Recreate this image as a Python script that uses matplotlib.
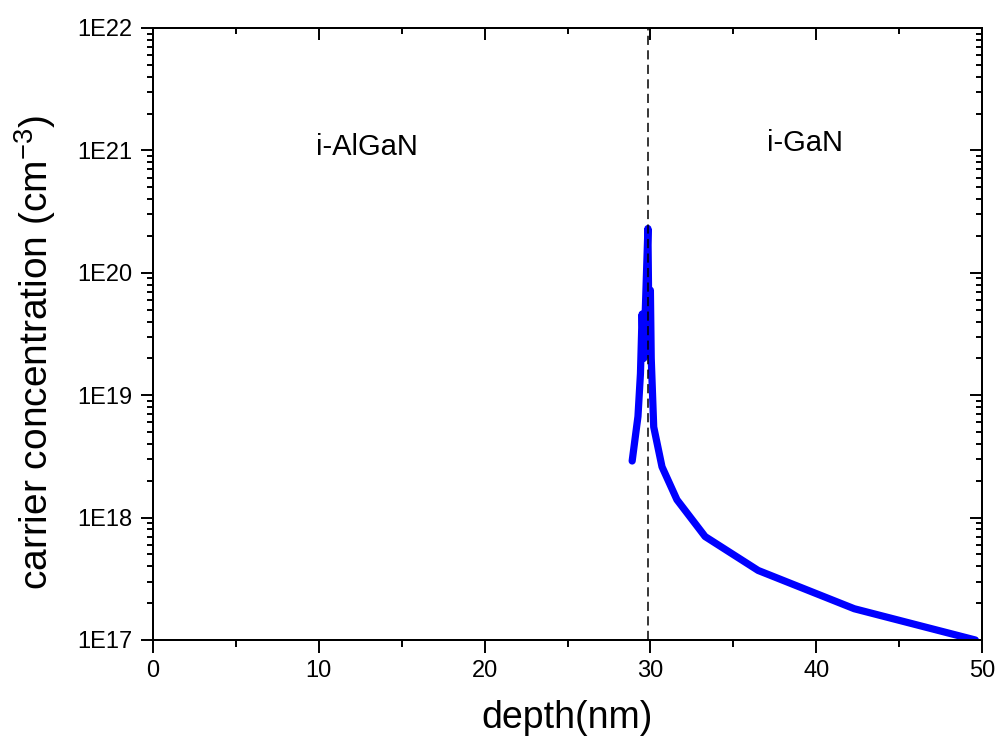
import numpy as np
import matplotlib as mpl

mpl.use("Agg")
import matplotlib.pyplot as plt
from matplotlib.ticker import FuncFormatter, LogLocator, MultipleLocator, NullFormatter

mpl.rcParams.update(
    {
        "font.family": ["Liberation Sans", "DejaVu Sans"],
        "axes.linewidth": 1.4,
        "mathtext.fontset": "custom",
        "mathtext.rm": "Liberation Sans",
        "mathtext.default": "regular",
    }
)

depth = [28.9, 29.25, 29.4, 29.5, 29.6, 29.85, 29.9, 30.0, 30.05, 30.2, 30.7, 31.6, 33.3, 36.5, 42.3, 49.6]
conc = [2.9e18, 6.7e18, 1.5e19, 4.6e19, 2.0e19, 2.3e20, 5.0e19, 7.2e19, 2.0e19, 5.5e18,
        2.6e18, 1.4e18, 7.0e17, 3.7e17, 1.8e17, 1.0e17]
interface = 29.85
regions = [("i-AlGaN", 12.88, 9.2e20), ("i-GaN", 39.3, 9.8e20)]

fig = plt.figure(figsize=(10.01, 7.47), dpi=100, facecolor="white")
ax = fig.add_axes([153 / 1001, 107 / 747, 829 / 1001, 612 / 747])

ax.plot(depth, conc, color="#0000ff", lw=5.2, solid_capstyle="round", solid_joinstyle="round", zorder=3)
ax.axvline(interface, color="black", lw=1.1, ls=(0, (6, 3.5)), zorder=4)
for label, x, y in regions:
    ax.text(x, y, label, fontsize=21, ha="center", va="baseline")

ax.set_xlim(0, 50)
ax.set_yscale("log")
ax.set_ylim(1e17, 1e22)
ax.xaxis.set_major_locator(MultipleLocator(10))
ax.xaxis.set_minor_locator(MultipleLocator(5))
ax.yaxis.set_major_locator(LogLocator(base=10, numticks=10))
ax.yaxis.set_minor_locator(LogLocator(base=10, subs=np.arange(2, 10), numticks=20))
ax.yaxis.set_major_formatter(FuncFormatter(lambda v, p: f"1E{int(round(np.log10(v)))}"))
ax.yaxis.set_minor_formatter(NullFormatter())
ax.tick_params(which="major", direction="out", length=8.6, width=1.4, labelsize=17)
ax.tick_params(which="minor", direction="out", length=4.3, width=1.4)
ax.tick_params(axis="y", which="major", pad=6)
ax.tick_params(axis="x", which="major", length=9.4, pad=5)
ax.tick_params(axis="x", which="minor", length=5)

# mirrored inward ticks on top and right
axt = ax.twiny()
axt.set_xlim(ax.get_xlim())
axt.xaxis.set_major_locator(MultipleLocator(10))
axt.xaxis.set_minor_locator(MultipleLocator(5))
axt.tick_params(which="major", direction="in", length=8.6, width=1.4, labeltop=False)
axt.tick_params(which="minor", direction="in", length=4.3, width=1.4)
axr = ax.twinx()
axr.set_yscale("log")
axr.set_ylim(ax.get_ylim())
axr.yaxis.set_major_locator(LogLocator(base=10, numticks=10))
axr.yaxis.set_minor_locator(LogLocator(base=10, subs=np.arange(2, 10), numticks=20))
axr.tick_params(which="major", direction="in", length=8.6, width=1.4, labelright=False)
axr.tick_params(which="minor", direction="in", length=4.3, width=1.4, labelright=False)

ax.set_xlabel("depth(nm)", fontsize=27, labelpad=13)
ax.set_ylabel("carrier concentration (cm$^{-3}$)", fontsize=28)
ax.yaxis.set_label_coords(-0.114, 0.47)

fig.savefig("out.png", dpi=100, facecolor="white")
